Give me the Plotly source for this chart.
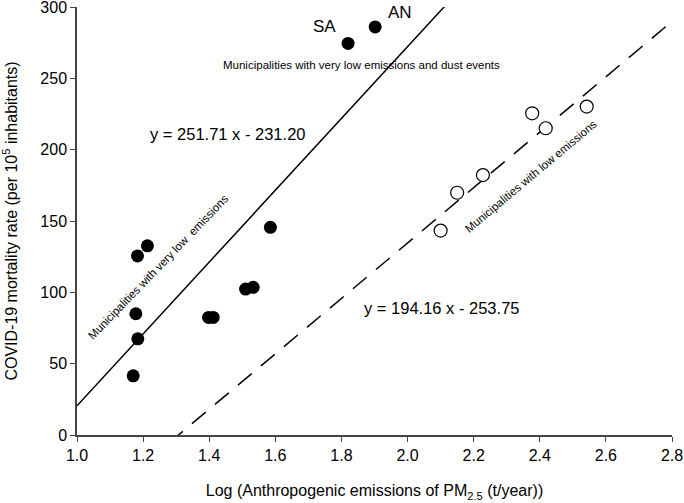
import plotly.graph_objects as go

# Filled points: municipalities with very low emissions (incl. dust events)
x_low = [1.170, 1.184, 1.178, 1.183, 1.213, 1.398, 1.412, 1.510, 1.533, 1.585, 1.820, 1.902]
y_low = [41.5, 67.4, 85.0, 125.5, 132.6, 82.4, 82.4, 102.3, 103.5, 145.6, 274.5, 286.0]

# Open points: municipalities with low emissions
x_high = [2.100, 2.150, 2.228, 2.377, 2.418, 2.542]
y_high = [143.3, 169.8, 182.2, 225.5, 215.0, 230.2]

# Regression lines
solid_slope, solid_icpt = 251.71, -231.20
dash_slope, dash_icpt = 194.16, -253.75
line_x = [1.0, 2.8]

FONT = "Liberation Sans, Arial, sans-serif"

fig = go.Figure()
fig.add_trace(go.Scatter(x=line_x, y=[solid_slope * v + solid_icpt for v in line_x],
                         mode="lines", line=dict(color="black", width=1.5), showlegend=False))
fig.add_trace(go.Scatter(x=line_x, y=[dash_slope * v + dash_icpt for v in line_x],
                         mode="lines", line=dict(color="black", width=1.5, dash="18px,12px"),
                         showlegend=False))
fig.add_trace(go.Scatter(x=x_low, y=y_low, mode="markers",
                         marker=dict(size=13, color="black", line=dict(width=0)),
                         showlegend=False, cliponaxis=False))
fig.add_trace(go.Scatter(x=x_high, y=y_high, mode="markers",
                         marker=dict(size=13, color="white", line=dict(width=1.2, color="black")),
                         showlegend=False, cliponaxis=False))

ann = [
    dict(x=1.75, y=286, text="SA", font=dict(size=17)),
    dict(x=1.978, y=296, text="AN", font=dict(size=17)),
    dict(x=1.860, y=259.5, text="Municipalities with very low emissions and dust events", font=dict(size=11.5)),
    dict(x=1.456, y=210.8, text="y = 251.71 x - 231.20", font=dict(size=16.5)),
    dict(x=2.103, y=89, text="y = 194.16 x - 253.75", font=dict(size=16.5)),
    dict(x=1.245, y=118, text="Municipalities with very low  emissions", font=dict(size=11.5), textangle=-46),
    dict(x=2.374, y=181.5, text="Municipalities with low emissions", font=dict(size=11.5), textangle=-40),
]
for a in ann:
    a.update(showarrow=False, xref="x", yref="y")
    a["font"].update(color="black", family=FONT)
    fig.add_annotation(**a)

fig.update_layout(
    width=684, height=503,
    margin=dict(l=77, r=12, t=7, b=68, autoexpand=False),
    plot_bgcolor="white", paper_bgcolor="white",
    font=dict(family=FONT, color="black", size=16),
)
fig.update_xaxes(range=[1.0, 2.8], dtick=0.2, tick0=1.0, tickformat=".1f", automargin=False,
                 showgrid=False, zeroline=False, showline=True, linecolor="#444", linewidth=1.5,
                 ticks="outside", ticklen=5, tickcolor="#444", ticklabeloverflow="allow",
                 title=dict(text="Log (Anthropogenic emissions of PM<sub>2.5</sub> (t/year))",
                            font=dict(size=16), standoff=22))
fig.update_yaxes(range=[0, 300], dtick=50, automargin=False,
                 showgrid=False, zeroline=False, showline=True, linecolor="#444", linewidth=1.5,
                 ticks="outside", ticklen=5, tickcolor="#444", ticklabeloverflow="allow",
                 title=dict(text="COVID-19 mortality rate (per 10<sup>5</sup> inhabitants)",
                            font=dict(size=16), standoff=27))

fig.write_html("out.html", config={"displayModeBar": False},
               post_script="document.body.style.margin='0';document.body.style.overflow='hidden';")
